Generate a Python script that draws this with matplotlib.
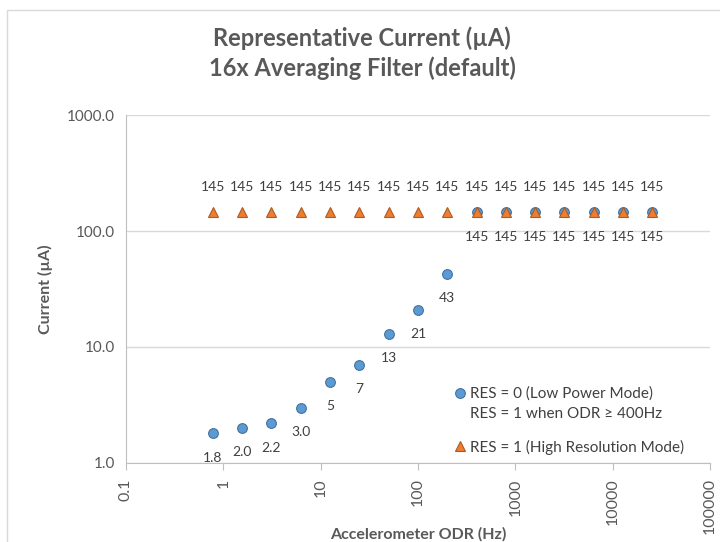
import numpy as np
import matplotlib.pyplot as plt
from matplotlib.patches import Rectangle
from matplotlib.lines import Line2D
from matplotlib.ticker import FixedLocator, FixedFormatter, NullLocator

plt.rcParams['font.family'] = ['Lato', 'DejaVu Sans']

# Output data rate (Hz)
odr = [0.78, 1.56, 3.125, 6.25, 12.5, 25, 50, 100, 200,
       400, 800, 1600, 3200, 6400, 12800, 25600]
# RES = 0 (low power), RES = 1 from 400 Hz
low_power = [1.8, 2.0, 2.2, 3.0, 5, 7, 13, 21, 43,
             145, 145, 145, 145, 145, 145, 145]
low_power_labels = ['1.8', '2.0', '2.2', '3.0', '5', '7', '13', '21', '43',
                    '145', '145', '145', '145', '145', '145', '145']
# RES = 1 (high resolution)
high_res = [145] * 16
high_res_labels = ['145'] * 16

x_ticks = [0.1, 1, 10, 100, 1000, 10000, 100000]
x_tick_labels = ['0.1', '1', '10', '100', '1000', '10000', '100000']
y_ticks = [1, 10, 100, 1000]
y_tick_labels = ['1.0', '10.0', '100.0', '1000.0']

gray = '#595959'
grid = '#D9D9D9'
text_col = '#404040'

fig = plt.figure(figsize=(7.2, 5.42), dpi=100)
ax = fig.add_axes([0.175, 0.1458, 0.811, 0.642])

# chart border
fig.patches.append(Rectangle((7 / 720, -0.1), 1.2, 1 - 10 / 542 + 0.1,
                             transform=fig.transFigure, fill=False,
                             edgecolor='#D9D9D9', linewidth=1))

blue, = ax.plot(odr, low_power, linestyle='none', marker='o', markersize=7,
                markerfacecolor='#5B9BD5', markeredgecolor='#41719C',
                markeredgewidth=0.8, zorder=3)
orange, = ax.plot(odr, high_res, linestyle='none', marker='^', markersize=6.5,
                  markerfacecolor='#ED7D31', markeredgecolor='#AE5A21',
                  markeredgewidth=0.8, zorder=4)

for x, y, t in zip(odr, low_power, low_power_labels):
    ax.annotate(t, (x, y), xytext=(0, -17.5), textcoords='offset points',
                ha='center', va='center', fontsize=10, color=text_col)
for x, y, t in zip(odr, high_res, high_res_labels):
    ax.annotate(t, (x, y), xytext=(0, 18), textcoords='offset points',
                ha='center', va='center', fontsize=10, color=text_col)

ax.set_xscale('log')
ax.set_yscale('log')
ax.set_xlim(0.1, 100000)
ax.set_ylim(1, 1000)

ax.xaxis.set_major_locator(FixedLocator(x_ticks))
ax.xaxis.set_major_formatter(FixedFormatter(x_tick_labels))
ax.xaxis.set_minor_locator(NullLocator())
ax.yaxis.set_major_locator(FixedLocator(y_ticks))
ax.yaxis.set_major_formatter(FixedFormatter(y_tick_labels))
ax.yaxis.set_minor_locator(NullLocator())

ax.tick_params(axis='x', length=5, color='#BFBFBF', labelsize=11.5,
               labelcolor=gray, labelrotation=90, pad=6)
ax.tick_params(axis='y', length=0, labelsize=11, labelcolor=gray, pad=8)

ax.grid(axis='y', color=grid, linewidth=1)
ax.set_axisbelow(True)
for s in ['top', 'right']:
    ax.spines[s].set_visible(False)
ax.spines['left'].set_color('#BFBFBF')
ax.spines['bottom'].set_color('#BFBFBF')

ax.set_xlabel('Accelerometer ODR (Hz)', fontsize=11.5, fontweight='bold', color=gray)
ax.xaxis.set_label_coords(0.5, -0.185)
ax.set_ylabel('Current (µA)', fontsize=11.5, fontweight='bold', color=gray)
ax.yaxis.set_label_coords(-0.125, 0.5)

fig.text(0.503, 0.93, 'Representative Current (µA)', ha='center', va='center',
         fontsize=17, fontweight='bold', color=gray)
fig.text(0.503, 0.875, '16x Averaging Filter (default)', ha='center', va='center',
         fontsize=17, fontweight='bold', color=gray)

blank = Line2D([], [], linestyle='none')
leg_kw = dict(frameon=False, fontsize=11, handletextpad=0.3, handlelength=0.8,
              borderpad=0, borderaxespad=0, labelcolor=text_col)
leg1 = ax.legend([blue, blank],
                 ['RES = 0 (Low Power Mode)', 'RES = 1 when ODR ≥ 400Hz'],
                 loc='center left', bbox_to_anchor=(0.561, 0.17),
                 labelspacing=0.4, **leg_kw)
ax.add_artist(leg1)
ax.legend([orange], ['RES = 1 (High Resolution Mode)'],
          loc='center left', bbox_to_anchor=(0.561, 0.046), **leg_kw)

fig.savefig('out.png', dpi=100)
